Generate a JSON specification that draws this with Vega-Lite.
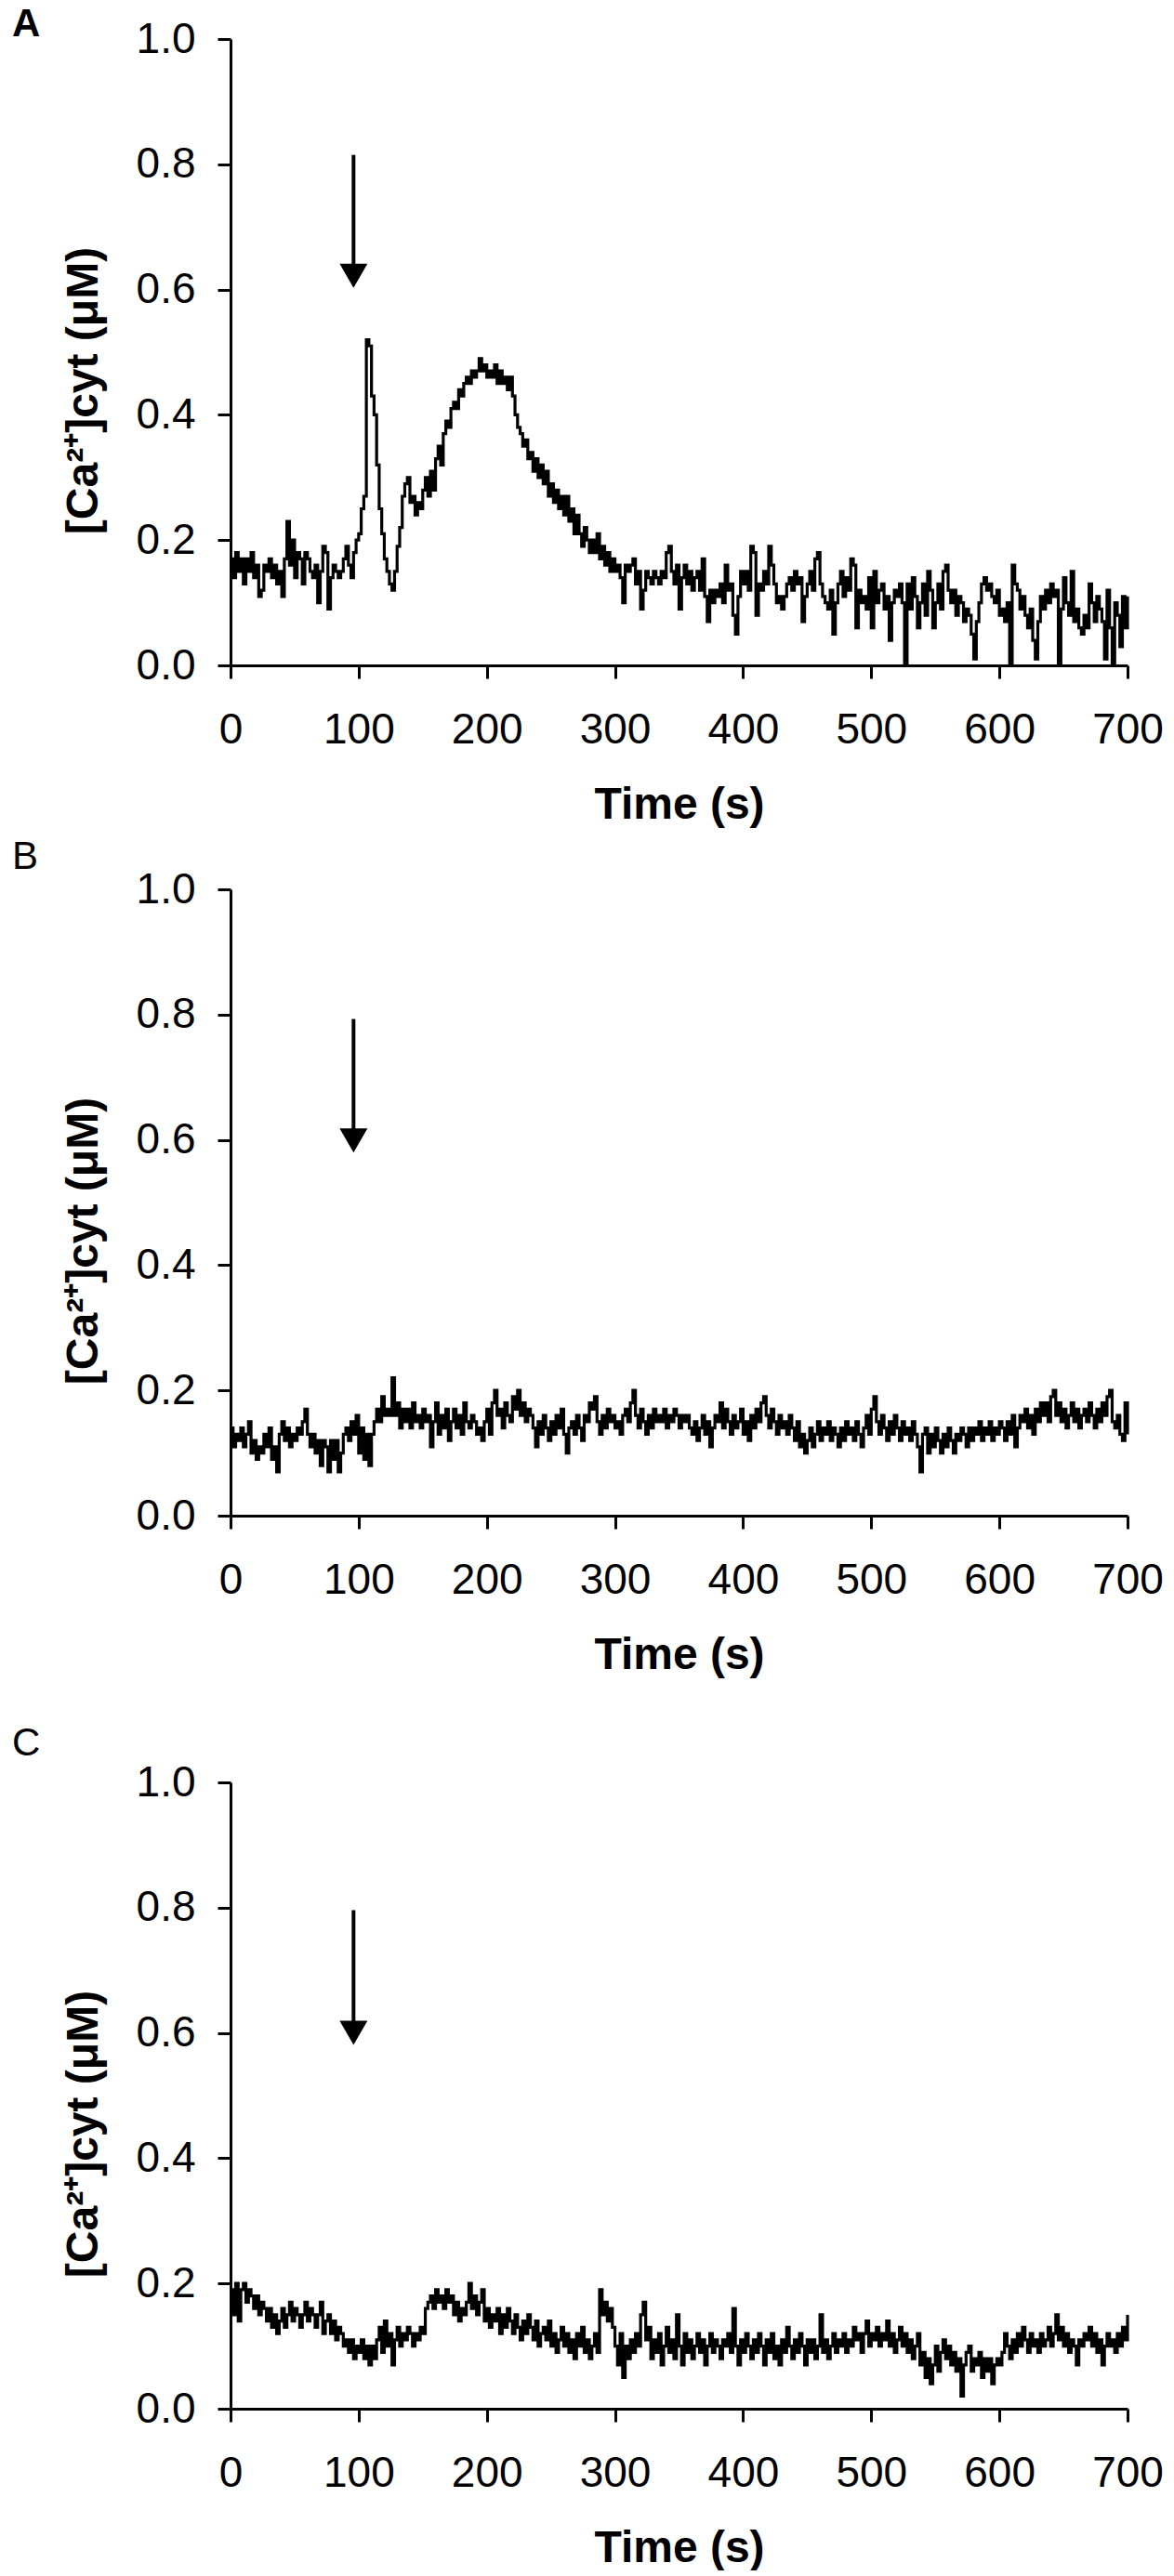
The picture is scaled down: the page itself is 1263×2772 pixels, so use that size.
{
"$schema": "https://vega.github.io/schema/vega-lite/v6.json",
"padding": {"left": 13, "top": 5, "right": 0, "bottom": 0},
"background": "white",
"config": {
"font": "Liberation Sans",
"view": {"stroke": null},
"axis": {"grid": false, "domainColor": "black", "domainWidth": 3, "tickColor": "black", "tickWidth": 3, "tickSize": 14, "labelFont": "Liberation Sans", "labelFontSize": 46, "labelColor": "black", "titleFont": "Liberation Sans", "titleFontWeight": "bold", "titleColor": "black", "labelFlush": false, "labelOverlap": false},
"axisX": {"labelPadding": 33, "titlePadding": 34, "titleFontSize": 48},
"axisY": {"labelPadding": 24, "titlePadding": 32, "titleFontSize": 48}
},
"datasets": {
"arrows": [
{"p": "A", "t": 96, "top": 0.815, "base": 0.63, "head": 0.622},
{"p": "B", "t": 96, "top": 0.793, "base": 0.61, "head": 0.599},
{"p": "C", "t": 96, "top": 0.796, "base": 0.61, "head": 0.6}
],
"A": [
{"t":0,"v":0.17},{"t":2,"v":0.14},{"t":4,"v":0.18},{"t":6,"v":0.15},{"t":8,"v":0.17},{"t":10,"v":0.13},{"t":12,"v":0.17},{"t":14,"v":0.15},{"t":16,"v":0.18},{"t":18,"v":0.14},
{"t":20,"v":0.16},{"t":22,"v":0.11},{"t":24,"v":0.12},{"t":26,"v":0.16},{"t":28,"v":0.15},{"t":30,"v":0.17},{"t":32,"v":0.14},{"t":34,"v":0.16},{"t":36,"v":0.13},{"t":38,"v":0.15},
{"t":40,"v":0.11},{"t":42,"v":0.17},{"t":44,"v":0.23},{"t":46,"v":0.16},{"t":48,"v":0.2},{"t":50,"v":0.14},{"t":52,"v":0.18},{"t":54,"v":0.17},{"t":56,"v":0.13},{"t":58,"v":0.18},
{"t":60,"v":0.17},{"t":62,"v":0.15},{"t":64,"v":0.14},{"t":66,"v":0.16},{"t":68,"v":0.1},{"t":70,"v":0.15},{"t":72,"v":0.19},{"t":74,"v":0.18},{"t":76,"v":0.09},{"t":78,"v":0.14},
{"t":80,"v":0.16},{"t":82,"v":0.15},{"t":84,"v":0.14},{"t":86,"v":0.15},{"t":88,"v":0.17},{"t":90,"v":0.19},{"t":92,"v":0.16},{"t":94,"v":0.14},{"t":96,"v":0.18},{"t":98,"v":0.2},
{"t":100,"v":0.21},{"t":102,"v":0.25},{"t":104,"v":0.27},{"t":106,"v":0.52},{"t":108,"v":0.51},{"t":110,"v":0.43},{"t":112,"v":0.4},{"t":114,"v":0.32},{"t":116,"v":0.25},{"t":118,"v":0.21},
{"t":120,"v":0.17},{"t":122,"v":0.15},{"t":124,"v":0.13},{"t":126,"v":0.12},{"t":128,"v":0.15},{"t":130,"v":0.19},{"t":132,"v":0.22},{"t":134,"v":0.27},{"t":136,"v":0.29},{"t":138,"v":0.3},
{"t":140,"v":0.26},{"t":142,"v":0.27},{"t":144,"v":0.24},{"t":146,"v":0.26},{"t":148,"v":0.25},{"t":150,"v":0.28},{"t":152,"v":0.3},{"t":154,"v":0.27},{"t":156,"v":0.31},{"t":158,"v":0.28},
{"t":160,"v":0.33},{"t":162,"v":0.35},{"t":164,"v":0.32},{"t":166,"v":0.37},{"t":168,"v":0.39},{"t":170,"v":0.38},{"t":172,"v":0.41},{"t":174,"v":0.42},{"t":176,"v":0.41},{"t":178,"v":0.44},
{"t":180,"v":0.43},{"t":182,"v":0.45},{"t":184,"v":0.46},{"t":186,"v":0.45},{"t":188,"v":0.47},{"t":190,"v":0.46},{"t":192,"v":0.47},{"t":194,"v":0.49},{"t":196,"v":0.47},{"t":198,"v":0.48},
{"t":200,"v":0.46},{"t":202,"v":0.47},{"t":204,"v":0.46},{"t":206,"v":0.48},{"t":208,"v":0.45},{"t":210,"v":0.47},{"t":212,"v":0.45},{"t":214,"v":0.46},{"t":216,"v":0.44},{"t":218,"v":0.46},
{"t":220,"v":0.43},{"t":222,"v":0.4},{"t":224,"v":0.38},{"t":226,"v":0.37},{"t":228,"v":0.35},{"t":230,"v":0.36},{"t":232,"v":0.33},{"t":234,"v":0.34},{"t":236,"v":0.31},{"t":238,"v":0.33},
{"t":240,"v":0.3},{"t":242,"v":0.32},{"t":244,"v":0.29},{"t":246,"v":0.31},{"t":248,"v":0.27},{"t":250,"v":0.29},{"t":252,"v":0.26},{"t":254,"v":0.28},{"t":256,"v":0.25},{"t":258,"v":0.27},
{"t":260,"v":0.24},{"t":262,"v":0.27},{"t":264,"v":0.23},{"t":266,"v":0.25},{"t":268,"v":0.21},{"t":270,"v":0.24},{"t":272,"v":0.21},{"t":274,"v":0.19},{"t":276,"v":0.22},{"t":278,"v":0.2},
{"t":280,"v":0.18},{"t":282,"v":0.2},{"t":284,"v":0.18},{"t":286,"v":0.21},{"t":288,"v":0.17},{"t":290,"v":0.19},{"t":292,"v":0.16},{"t":294,"v":0.18},{"t":296,"v":0.15},{"t":298,"v":0.17},
{"t":300,"v":0.15},{"t":302,"v":0.16},{"t":304,"v":0.14},{"t":306,"v":0.1},{"t":308,"v":0.16},{"t":310,"v":0.15},{"t":312,"v":0.16},{"t":314,"v":0.17},{"t":316,"v":0.13},{"t":318,"v":0.15},
{"t":320,"v":0.09},{"t":322,"v":0.12},{"t":324,"v":0.15},{"t":326,"v":0.14},{"t":328,"v":0.13},{"t":330,"v":0.15},{"t":332,"v":0.14},{"t":334,"v":0.13},{"t":336,"v":0.15},{"t":338,"v":0.14},
{"t":340,"v":0.18},{"t":342,"v":0.19},{"t":344,"v":0.15},{"t":346,"v":0.13},{"t":348,"v":0.16},{"t":350,"v":0.09},{"t":352,"v":0.14},{"t":354,"v":0.16},{"t":356,"v":0.13},{"t":358,"v":0.15},
{"t":360,"v":0.12},{"t":362,"v":0.14},{"t":364,"v":0.15},{"t":366,"v":0.12},{"t":368,"v":0.17},{"t":370,"v":0.11},{"t":372,"v":0.07},{"t":374,"v":0.12},{"t":376,"v":0.1},{"t":378,"v":0.12},
{"t":380,"v":0.11},{"t":382,"v":0.13},{"t":384,"v":0.1},{"t":386,"v":0.16},{"t":388,"v":0.12},{"t":390,"v":0.13},{"t":392,"v":0.08},{"t":394,"v":0.05},{"t":396,"v":0.11},{"t":398,"v":0.15},
{"t":400,"v":0.13},{"t":402,"v":0.15},{"t":404,"v":0.12},{"t":406,"v":0.19},{"t":408,"v":0.18},{"t":410,"v":0.08},{"t":412,"v":0.13},{"t":414,"v":0.12},{"t":416,"v":0.15},{"t":418,"v":0.13},
{"t":420,"v":0.19},{"t":422,"v":0.16},{"t":424,"v":0.13},{"t":426,"v":0.1},{"t":428,"v":0.11},{"t":430,"v":0.09},{"t":432,"v":0.11},{"t":434,"v":0.13},{"t":436,"v":0.14},{"t":438,"v":0.12},
{"t":440,"v":0.15},{"t":442,"v":0.13},{"t":444,"v":0.14},{"t":446,"v":0.07},{"t":448,"v":0.11},{"t":450,"v":0.13},{"t":452,"v":0.15},{"t":454,"v":0.12},{"t":456,"v":0.17},{"t":458,"v":0.18},
{"t":460,"v":0.13},{"t":462,"v":0.11},{"t":464,"v":0.1},{"t":466,"v":0.09},{"t":468,"v":0.12},{"t":470,"v":0.05},{"t":472,"v":0.1},{"t":474,"v":0.13},{"t":476,"v":0.15},{"t":478,"v":0.11},
{"t":480,"v":0.14},{"t":482,"v":0.12},{"t":484,"v":0.17},{"t":486,"v":0.16},{"t":488,"v":0.06},{"t":490,"v":0.12},{"t":492,"v":0.1},{"t":494,"v":0.11},{"t":496,"v":0.09},{"t":498,"v":0.14},
{"t":500,"v":0.06},{"t":502,"v":0.15},{"t":504,"v":0.1},{"t":506,"v":0.12},{"t":508,"v":0.13},{"t":510,"v":0.09},{"t":512,"v":0.11},{"t":514,"v":0.04},{"t":516,"v":0.1},{"t":518,"v":0.12},
{"t":520,"v":0.11},{"t":522,"v":0.13},{"t":524,"v":0.1},{"t":526,"v":0.0},{"t":528,"v":0.13},{"t":530,"v":0.09},{"t":532,"v":0.14},{"t":534,"v":0.11},{"t":536,"v":0.06},{"t":538,"v":0.1},
{"t":540,"v":0.13},{"t":542,"v":0.08},{"t":544,"v":0.15},{"t":546,"v":0.12},{"t":548,"v":0.06},{"t":550,"v":0.1},{"t":552,"v":0.13},{"t":554,"v":0.09},{"t":556,"v":0.15},{"t":558,"v":0.16},
{"t":560,"v":0.12},{"t":562,"v":0.1},{"t":564,"v":0.12},{"t":566,"v":0.08},{"t":568,"v":0.11},{"t":570,"v":0.1},{"t":572,"v":0.07},{"t":574,"v":0.09},{"t":576,"v":0.08},{"t":578,"v":0.05},
{"t":580,"v":0.01},{"t":582,"v":0.07},{"t":584,"v":0.1},{"t":586,"v":0.13},{"t":588,"v":0.14},{"t":590,"v":0.12},{"t":592,"v":0.13},{"t":594,"v":0.11},{"t":596,"v":0.1},{"t":598,"v":0.12},
{"t":600,"v":0.08},{"t":602,"v":0.09},{"t":604,"v":0.07},{"t":606,"v":0.1},{"t":608,"v":0.0},{"t":610,"v":0.16},{"t":612,"v":0.13},{"t":614,"v":0.12},{"t":616,"v":0.09},{"t":618,"v":0.11},
{"t":620,"v":0.08},{"t":622,"v":0.06},{"t":624,"v":0.09},{"t":626,"v":0.04},{"t":628,"v":0.01},{"t":630,"v":0.07},{"t":632,"v":0.11},{"t":634,"v":0.09},{"t":636,"v":0.12},{"t":638,"v":0.1},
{"t":640,"v":0.13},{"t":642,"v":0.11},{"t":644,"v":0.12},{"t":646,"v":0.0},{"t":648,"v":0.09},{"t":650,"v":0.14},{"t":652,"v":0.1},{"t":654,"v":0.08},{"t":656,"v":0.15},{"t":658,"v":0.07},
{"t":660,"v":0.09},{"t":662,"v":0.06},{"t":664,"v":0.05},{"t":666,"v":0.08},{"t":668,"v":0.06},{"t":670,"v":0.13},{"t":672,"v":0.1},{"t":674,"v":0.07},{"t":676,"v":0.11},{"t":678,"v":0.09},
{"t":680,"v":0.07},{"t":682,"v":0.01},{"t":684,"v":0.12},{"t":686,"v":0.06},{"t":688,"v":0.0},{"t":690,"v":0.1},{"t":692,"v":0.08},{"t":694,"v":0.03},{"t":696,"v":0.11},{"t":698,"v":0.06},
{"t":700,"v":0.11}
],
"B": [
{"t":0,"v":0.14},{"t":2,"v":0.11},{"t":4,"v":0.13},{"t":6,"v":0.12},{"t":8,"v":0.14},{"t":10,"v":0.11},{"t":12,"v":0.13},{"t":14,"v":0.15},{"t":16,"v":0.1},{"t":18,"v":0.12},
{"t":20,"v":0.09},{"t":22,"v":0.11},{"t":24,"v":0.1},{"t":26,"v":0.13},{"t":28,"v":0.11},{"t":30,"v":0.14},{"t":32,"v":0.09},{"t":34,"v":0.11},{"t":36,"v":0.07},{"t":38,"v":0.13},
{"t":40,"v":0.15},{"t":42,"v":0.12},{"t":44,"v":0.14},{"t":46,"v":0.11},{"t":48,"v":0.13},{"t":50,"v":0.12},{"t":52,"v":0.14},{"t":54,"v":0.13},{"t":56,"v":0.15},{"t":58,"v":0.17},
{"t":60,"v":0.13},{"t":62,"v":0.11},{"t":64,"v":0.13},{"t":66,"v":0.1},{"t":68,"v":0.12},{"t":70,"v":0.08},{"t":72,"v":0.12},{"t":74,"v":0.11},{"t":76,"v":0.07},{"t":78,"v":0.12},
{"t":80,"v":0.09},{"t":82,"v":0.12},{"t":84,"v":0.07},{"t":86,"v":0.1},{"t":88,"v":0.13},{"t":90,"v":0.14},{"t":92,"v":0.12},{"t":94,"v":0.15},{"t":96,"v":0.13},{"t":98,"v":0.16},
{"t":100,"v":0.1},{"t":102,"v":0.14},{"t":104,"v":0.09},{"t":106,"v":0.13},{"t":108,"v":0.08},{"t":110,"v":0.13},{"t":112,"v":0.15},{"t":114,"v":0.17},{"t":116,"v":0.15},{"t":118,"v":0.19},
{"t":120,"v":0.16},{"t":122,"v":0.17},{"t":124,"v":0.16},{"t":126,"v":0.22},{"t":128,"v":0.16},{"t":130,"v":0.18},{"t":132,"v":0.14},{"t":134,"v":0.17},{"t":136,"v":0.15},{"t":138,"v":0.17},
{"t":140,"v":0.14},{"t":142,"v":0.18},{"t":144,"v":0.15},{"t":146,"v":0.16},{"t":148,"v":0.14},{"t":150,"v":0.17},{"t":152,"v":0.15},{"t":154,"v":0.16},{"t":156,"v":0.11},{"t":158,"v":0.15},
{"t":160,"v":0.18},{"t":162,"v":0.13},{"t":164,"v":0.16},{"t":166,"v":0.14},{"t":168,"v":0.17},{"t":170,"v":0.12},{"t":172,"v":0.15},{"t":174,"v":0.17},{"t":176,"v":0.14},{"t":178,"v":0.16},
{"t":180,"v":0.13},{"t":182,"v":0.18},{"t":184,"v":0.15},{"t":186,"v":0.14},{"t":188,"v":0.16},{"t":190,"v":0.15},{"t":192,"v":0.13},{"t":194,"v":0.14},{"t":196,"v":0.12},{"t":198,"v":0.15},
{"t":200,"v":0.17},{"t":202,"v":0.13},{"t":204,"v":0.18},{"t":206,"v":0.2},{"t":208,"v":0.16},{"t":210,"v":0.17},{"t":212,"v":0.14},{"t":214,"v":0.18},{"t":216,"v":0.16},{"t":218,"v":0.15},
{"t":220,"v":0.19},{"t":222,"v":0.17},{"t":224,"v":0.2},{"t":226,"v":0.16},{"t":228,"v":0.18},{"t":230,"v":0.15},{"t":232,"v":0.17},{"t":234,"v":0.16},{"t":236,"v":0.14},{"t":238,"v":0.11},
{"t":240,"v":0.15},{"t":242,"v":0.13},{"t":244,"v":0.16},{"t":246,"v":0.14},{"t":248,"v":0.12},{"t":250,"v":0.15},{"t":252,"v":0.13},{"t":254,"v":0.16},{"t":256,"v":0.14},{"t":258,"v":0.17},
{"t":260,"v":0.13},{"t":262,"v":0.1},{"t":264,"v":0.14},{"t":266,"v":0.15},{"t":268,"v":0.13},{"t":270,"v":0.16},{"t":272,"v":0.14},{"t":274,"v":0.12},{"t":276,"v":0.16},{"t":278,"v":0.15},
{"t":280,"v":0.18},{"t":282,"v":0.17},{"t":284,"v":0.19},{"t":286,"v":0.15},{"t":288,"v":0.13},{"t":290,"v":0.16},{"t":292,"v":0.14},{"t":294,"v":0.17},{"t":296,"v":0.15},{"t":298,"v":0.16},
{"t":300,"v":0.14},{"t":302,"v":0.15},{"t":304,"v":0.13},{"t":306,"v":0.16},{"t":308,"v":0.17},{"t":310,"v":0.15},{"t":312,"v":0.18},{"t":314,"v":0.2},{"t":316,"v":0.16},{"t":318,"v":0.14},
{"t":320,"v":0.17},{"t":322,"v":0.15},{"t":324,"v":0.13},{"t":326,"v":0.16},{"t":328,"v":0.14},{"t":330,"v":0.17},{"t":332,"v":0.15},{"t":334,"v":0.16},{"t":336,"v":0.15},{"t":338,"v":0.17},
{"t":340,"v":0.14},{"t":342,"v":0.16},{"t":344,"v":0.15},{"t":346,"v":0.17},{"t":348,"v":0.16},{"t":350,"v":0.14},{"t":352,"v":0.16},{"t":354,"v":0.15},{"t":356,"v":0.16},{"t":358,"v":0.14},
{"t":360,"v":0.13},{"t":362,"v":0.15},{"t":364,"v":0.12},{"t":366,"v":0.14},{"t":368,"v":0.16},{"t":370,"v":0.13},{"t":372,"v":0.15},{"t":374,"v":0.11},{"t":376,"v":0.14},{"t":378,"v":0.16},
{"t":380,"v":0.15},{"t":382,"v":0.18},{"t":384,"v":0.14},{"t":386,"v":0.17},{"t":388,"v":0.15},{"t":390,"v":0.13},{"t":392,"v":0.16},{"t":394,"v":0.14},{"t":396,"v":0.15},{"t":398,"v":0.17},
{"t":400,"v":0.13},{"t":402,"v":0.15},{"t":404,"v":0.12},{"t":406,"v":0.16},{"t":408,"v":0.14},{"t":410,"v":0.17},{"t":412,"v":0.15},{"t":414,"v":0.18},{"t":416,"v":0.19},{"t":418,"v":0.16},
{"t":420,"v":0.14},{"t":422,"v":0.17},{"t":424,"v":0.15},{"t":426,"v":0.13},{"t":428,"v":0.16},{"t":430,"v":0.14},{"t":432,"v":0.15},{"t":434,"v":0.13},{"t":436,"v":0.16},{"t":438,"v":0.14},
{"t":440,"v":0.12},{"t":442,"v":0.15},{"t":444,"v":0.11},{"t":446,"v":0.13},{"t":448,"v":0.1},{"t":450,"v":0.12},{"t":452,"v":0.14},{"t":454,"v":0.11},{"t":456,"v":0.13},{"t":458,"v":0.15},
{"t":460,"v":0.12},{"t":462,"v":0.14},{"t":464,"v":0.13},{"t":466,"v":0.15},{"t":468,"v":0.12},{"t":470,"v":0.14},{"t":472,"v":0.13},{"t":474,"v":0.11},{"t":476,"v":0.14},{"t":478,"v":0.12},
{"t":480,"v":0.15},{"t":482,"v":0.13},{"t":484,"v":0.14},{"t":486,"v":0.12},{"t":488,"v":0.15},{"t":490,"v":0.13},{"t":492,"v":0.11},{"t":494,"v":0.14},{"t":496,"v":0.16},{"t":498,"v":0.13},
{"t":500,"v":0.17},{"t":502,"v":0.19},{"t":504,"v":0.15},{"t":506,"v":0.13},{"t":508,"v":0.16},{"t":510,"v":0.14},{"t":512,"v":0.12},{"t":514,"v":0.15},{"t":516,"v":0.13},{"t":518,"v":0.16},
{"t":520,"v":0.14},{"t":522,"v":0.12},{"t":524,"v":0.15},{"t":526,"v":0.13},{"t":528,"v":0.14},{"t":530,"v":0.12},{"t":532,"v":0.15},{"t":534,"v":0.13},{"t":536,"v":0.11},{"t":538,"v":0.07},
{"t":540,"v":0.13},{"t":542,"v":0.14},{"t":544,"v":0.1},{"t":546,"v":0.13},{"t":548,"v":0.11},{"t":550,"v":0.14},{"t":552,"v":0.12},{"t":554,"v":0.1},{"t":556,"v":0.13},{"t":558,"v":0.11},
{"t":560,"v":0.14},{"t":562,"v":0.12},{"t":564,"v":0.1},{"t":566,"v":0.13},{"t":568,"v":0.12},{"t":570,"v":0.14},{"t":572,"v":0.13},{"t":574,"v":0.11},{"t":576,"v":0.14},{"t":578,"v":0.12},
{"t":580,"v":0.14},{"t":582,"v":0.13},{"t":584,"v":0.15},{"t":586,"v":0.12},{"t":588,"v":0.14},{"t":590,"v":0.13},{"t":592,"v":0.15},{"t":594,"v":0.12},{"t":596,"v":0.14},{"t":598,"v":0.13},
{"t":600,"v":0.15},{"t":602,"v":0.14},{"t":604,"v":0.12},{"t":606,"v":0.15},{"t":608,"v":0.13},{"t":610,"v":0.16},{"t":612,"v":0.11},{"t":614,"v":0.14},{"t":616,"v":0.16},{"t":618,"v":0.15},
{"t":620,"v":0.17},{"t":622,"v":0.14},{"t":624,"v":0.16},{"t":626,"v":0.13},{"t":628,"v":0.17},{"t":630,"v":0.15},{"t":632,"v":0.18},{"t":634,"v":0.16},{"t":636,"v":0.18},{"t":638,"v":0.15},
{"t":640,"v":0.19},{"t":642,"v":0.2},{"t":644,"v":0.16},{"t":646,"v":0.18},{"t":648,"v":0.15},{"t":650,"v":0.17},{"t":652,"v":0.14},{"t":654,"v":0.16},{"t":656,"v":0.18},{"t":658,"v":0.15},
{"t":660,"v":0.17},{"t":662,"v":0.14},{"t":664,"v":0.16},{"t":666,"v":0.17},{"t":668,"v":0.15},{"t":670,"v":0.18},{"t":672,"v":0.16},{"t":674,"v":0.14},{"t":676,"v":0.17},{"t":678,"v":0.15},
{"t":680,"v":0.18},{"t":682,"v":0.16},{"t":684,"v":0.19},{"t":686,"v":0.2},{"t":688,"v":0.15},{"t":690,"v":0.14},{"t":692,"v":0.16},{"t":694,"v":0.13},{"t":696,"v":0.12},{"t":698,"v":0.18},
{"t":700,"v":0.13}
],
"C": [
{"t":0,"v":0.19},{"t":2,"v":0.15},{"t":4,"v":0.2},{"t":6,"v":0.14},{"t":8,"v":0.19},{"t":10,"v":0.2},{"t":12,"v":0.17},{"t":14,"v":0.19},{"t":16,"v":0.18},{"t":18,"v":0.16},
{"t":20,"v":0.18},{"t":22,"v":0.15},{"t":24,"v":0.17},{"t":26,"v":0.16},{"t":28,"v":0.14},{"t":30,"v":0.16},{"t":32,"v":0.13},{"t":34,"v":0.15},{"t":36,"v":0.12},{"t":38,"v":0.14},
{"t":40,"v":0.16},{"t":42,"v":0.13},{"t":44,"v":0.15},{"t":46,"v":0.17},{"t":48,"v":0.14},{"t":50,"v":0.16},{"t":52,"v":0.15},{"t":54,"v":0.13},{"t":56,"v":0.15},{"t":58,"v":0.17},
{"t":60,"v":0.14},{"t":62,"v":0.16},{"t":64,"v":0.15},{"t":66,"v":0.13},{"t":68,"v":0.15},{"t":70,"v":0.17},{"t":72,"v":0.12},{"t":74,"v":0.14},{"t":76,"v":0.15},{"t":78,"v":0.12},
{"t":80,"v":0.14},{"t":82,"v":0.11},{"t":84,"v":0.13},{"t":86,"v":0.12},{"t":88,"v":0.1},{"t":90,"v":0.11},{"t":92,"v":0.09},{"t":94,"v":0.11},{"t":96,"v":0.08},{"t":98,"v":0.1},
{"t":100,"v":0.09},{"t":102,"v":0.11},{"t":104,"v":0.08},{"t":106,"v":0.1},{"t":108,"v":0.07},{"t":110,"v":0.1},{"t":112,"v":0.08},{"t":114,"v":0.11},{"t":116,"v":0.13},{"t":118,"v":0.09},
{"t":120,"v":0.14},{"t":122,"v":0.1},{"t":124,"v":0.12},{"t":126,"v":0.07},{"t":128,"v":0.11},{"t":130,"v":0.13},{"t":132,"v":0.1},{"t":134,"v":0.12},{"t":136,"v":0.11},{"t":138,"v":0.13},
{"t":140,"v":0.12},{"t":142,"v":0.1},{"t":144,"v":0.12},{"t":146,"v":0.11},{"t":148,"v":0.13},{"t":150,"v":0.12},{"t":152,"v":0.16},{"t":154,"v":0.17},{"t":156,"v":0.18},{"t":158,"v":0.16},
{"t":160,"v":0.19},{"t":162,"v":0.17},{"t":164,"v":0.18},{"t":166,"v":0.16},{"t":168,"v":0.19},{"t":170,"v":0.17},{"t":172,"v":0.18},{"t":174,"v":0.15},{"t":176,"v":0.17},{"t":178,"v":0.14},
{"t":180,"v":0.16},{"t":182,"v":0.15},{"t":184,"v":0.17},{"t":186,"v":0.2},{"t":188,"v":0.16},{"t":190,"v":0.18},{"t":192,"v":0.15},{"t":194,"v":0.17},{"t":196,"v":0.19},{"t":198,"v":0.14},
{"t":200,"v":0.16},{"t":202,"v":0.13},{"t":204,"v":0.15},{"t":206,"v":0.14},{"t":208,"v":0.16},{"t":210,"v":0.12},{"t":212,"v":0.15},{"t":214,"v":0.13},{"t":216,"v":0.16},{"t":218,"v":0.14},
{"t":220,"v":0.12},{"t":222,"v":0.15},{"t":224,"v":0.13},{"t":226,"v":0.11},{"t":228,"v":0.14},{"t":230,"v":0.12},{"t":232,"v":0.15},{"t":234,"v":0.13},{"t":236,"v":0.11},{"t":238,"v":0.14},
{"t":240,"v":0.1},{"t":242,"v":0.12},{"t":244,"v":0.13},{"t":246,"v":0.11},{"t":248,"v":0.14},{"t":250,"v":0.1},{"t":252,"v":0.12},{"t":254,"v":0.09},{"t":256,"v":0.11},{"t":258,"v":0.13},
{"t":260,"v":0.1},{"t":262,"v":0.12},{"t":264,"v":0.09},{"t":266,"v":0.11},{"t":268,"v":0.08},{"t":270,"v":0.12},{"t":272,"v":0.1},{"t":274,"v":0.13},{"t":276,"v":0.09},{"t":278,"v":0.11},
{"t":280,"v":0.08},{"t":282,"v":0.1},{"t":284,"v":0.12},{"t":286,"v":0.09},{"t":288,"v":0.19},{"t":290,"v":0.15},{"t":292,"v":0.17},{"t":294,"v":0.14},{"t":296,"v":0.16},{"t":298,"v":0.13},
{"t":300,"v":0.1},{"t":302,"v":0.07},{"t":304,"v":0.12},{"t":306,"v":0.05},{"t":308,"v":0.1},{"t":310,"v":0.08},{"t":312,"v":0.11},{"t":314,"v":0.09},{"t":316,"v":0.12},{"t":318,"v":0.1},
{"t":320,"v":0.15},{"t":322,"v":0.17},{"t":324,"v":0.11},{"t":326,"v":0.13},{"t":328,"v":0.08},{"t":330,"v":0.11},{"t":332,"v":0.09},{"t":334,"v":0.12},{"t":336,"v":0.07},{"t":338,"v":0.1},
{"t":340,"v":0.13},{"t":342,"v":0.09},{"t":344,"v":0.11},{"t":346,"v":0.08},{"t":348,"v":0.15},{"t":350,"v":0.1},{"t":352,"v":0.07},{"t":354,"v":0.12},{"t":356,"v":0.09},{"t":358,"v":0.11},
{"t":360,"v":0.08},{"t":362,"v":0.1},{"t":364,"v":0.12},{"t":366,"v":0.09},{"t":368,"v":0.11},{"t":370,"v":0.07},{"t":372,"v":0.1},{"t":374,"v":0.12},{"t":376,"v":0.09},{"t":378,"v":0.11},
{"t":380,"v":0.1},{"t":382,"v":0.08},{"t":384,"v":0.11},{"t":386,"v":0.1},{"t":388,"v":0.12},{"t":390,"v":0.09},{"t":392,"v":0.16},{"t":394,"v":0.1},{"t":396,"v":0.07},{"t":398,"v":0.11},
{"t":400,"v":0.09},{"t":402,"v":0.12},{"t":404,"v":0.1},{"t":406,"v":0.08},{"t":408,"v":0.11},{"t":410,"v":0.09},{"t":412,"v":0.12},{"t":414,"v":0.1},{"t":416,"v":0.07},{"t":418,"v":0.11},
{"t":420,"v":0.09},{"t":422,"v":0.12},{"t":424,"v":0.08},{"t":426,"v":0.1},{"t":428,"v":0.07},{"t":430,"v":0.11},{"t":432,"v":0.09},{"t":434,"v":0.13},{"t":436,"v":0.1},{"t":438,"v":0.08},
{"t":440,"v":0.11},{"t":442,"v":0.09},{"t":444,"v":0.12},{"t":446,"v":0.1},{"t":448,"v":0.07},{"t":450,"v":0.11},{"t":452,"v":0.09},{"t":454,"v":0.11},{"t":456,"v":0.08},{"t":458,"v":0.1},
{"t":460,"v":0.15},{"t":462,"v":0.09},{"t":464,"v":0.11},{"t":466,"v":0.08},{"t":468,"v":0.1},{"t":470,"v":0.12},{"t":472,"v":0.09},{"t":474,"v":0.11},{"t":476,"v":0.1},{"t":478,"v":0.12},
{"t":480,"v":0.09},{"t":482,"v":0.11},{"t":484,"v":0.1},{"t":486,"v":0.13},{"t":488,"v":0.11},{"t":490,"v":0.12},{"t":492,"v":0.09},{"t":494,"v":0.12},{"t":496,"v":0.14},{"t":498,"v":0.1},
{"t":500,"v":0.12},{"t":502,"v":0.11},{"t":504,"v":0.13},{"t":506,"v":0.1},{"t":508,"v":0.12},{"t":510,"v":0.11},{"t":512,"v":0.14},{"t":514,"v":0.1},{"t":516,"v":0.12},{"t":518,"v":0.09},
{"t":520,"v":0.11},{"t":522,"v":0.13},{"t":524,"v":0.1},{"t":526,"v":0.12},{"t":528,"v":0.09},{"t":530,"v":0.11},{"t":532,"v":0.08},{"t":534,"v":0.1},{"t":536,"v":0.12},{"t":538,"v":0.07},
{"t":540,"v":0.09},{"t":542,"v":0.05},{"t":544,"v":0.08},{"t":546,"v":0.04},{"t":548,"v":0.07},{"t":550,"v":0.1},{"t":552,"v":0.06},{"t":554,"v":0.09},{"t":556,"v":0.11},{"t":558,"v":0.08},
{"t":560,"v":0.1},{"t":562,"v":0.07},{"t":564,"v":0.09},{"t":566,"v":0.06},{"t":568,"v":0.08},{"t":570,"v":0.02},{"t":572,"v":0.07},{"t":574,"v":0.09},{"t":576,"v":0.1},{"t":578,"v":0.06},
{"t":580,"v":0.08},{"t":582,"v":0.07},{"t":584,"v":0.09},{"t":586,"v":0.05},{"t":588,"v":0.08},{"t":590,"v":0.06},{"t":592,"v":0.08},{"t":594,"v":0.04},{"t":596,"v":0.07},{"t":598,"v":0.08},
{"t":600,"v":0.07},{"t":602,"v":0.09},{"t":604,"v":0.12},{"t":606,"v":0.1},{"t":608,"v":0.08},{"t":610,"v":0.11},{"t":612,"v":0.09},{"t":614,"v":0.12},{"t":616,"v":0.1},{"t":618,"v":0.13},
{"t":620,"v":0.11},{"t":622,"v":0.09},{"t":624,"v":0.12},{"t":626,"v":0.1},{"t":628,"v":0.11},{"t":630,"v":0.09},{"t":632,"v":0.12},{"t":634,"v":0.1},{"t":636,"v":0.11},{"t":638,"v":0.13},
{"t":640,"v":0.1},{"t":642,"v":0.12},{"t":644,"v":0.15},{"t":646,"v":0.11},{"t":648,"v":0.13},{"t":650,"v":0.1},{"t":652,"v":0.12},{"t":654,"v":0.09},{"t":656,"v":0.11},{"t":658,"v":0.1},
{"t":660,"v":0.07},{"t":662,"v":0.11},{"t":664,"v":0.1},{"t":666,"v":0.12},{"t":668,"v":0.11},{"t":670,"v":0.13},{"t":672,"v":0.1},{"t":674,"v":0.12},{"t":676,"v":0.09},{"t":678,"v":0.11},
{"t":680,"v":0.07},{"t":682,"v":0.1},{"t":684,"v":0.12},{"t":686,"v":0.1},{"t":688,"v":0.11},{"t":690,"v":0.09},{"t":692,"v":0.12},{"t":694,"v":0.1},{"t":696,"v":0.13},{"t":698,"v":0.11},
{"t":700,"v":0.15}
]
},
"spacing": 50,
"vconcat": [
{
"spacing": 241,
"bounds": "flush",
"vconcat": [
{
"width": 965, "height": 674,
"title": {"text": "A", "anchor": "start", "frame": "group", "dx": -235, "offset": -29, "fontSize": 42, "fontWeight": "bold", "color": "black", "font": "Liberation Sans"},
"layer": [
{"data": {"name": "A"}, "mark": {"type": "line", "interpolate": "step-after", "color": "black", "strokeWidth": 3.2},
"encoding": {
"x": {"field": "t", "type": "quantitative", "title": "Time (s)", "scale": {"domain": [0, 700], "nice": false}, "axis": {"values": [0, 100, 200, 300, 400, 500, 600, 700], "format": "d"}},
"y": {"field": "v", "type": "quantitative", "title": "[Ca²⁺]cyt (μM)", "scale": {"domain": [0, 1], "nice": false}, "axis": {"values": [0, 0.2, 0.4, 0.6, 0.8, 1], "format": ".1f", "titleY": 378}}}},
{"data": {"name": "arrows"}, "transform": [{"filter": "datum.p === 'A'"}], "mark": {"type": "rule", "color": "black", "strokeWidth": 4},
"encoding": {"x": {"field": "t", "type": "quantitative", "title": "Time (s)"}, "y": {"field": "top", "type": "quantitative", "title": "[Ca²⁺]cyt (μM)"}, "y2": {"field": "base"}}},
{"data": {"name": "arrows"}, "transform": [{"filter": "datum.p === 'A'"}], "mark": {"type": "point", "shape": "triangle-down", "filled": true, "size": 900, "color": "black", "opacity": 1, "strokeWidth": 0},
"encoding": {"x": {"field": "t", "type": "quantitative", "title": "Time (s)"}, "y": {"field": "head", "type": "quantitative", "title": "[Ca²⁺]cyt (μM)"}}}
]
},
{
"width": 965, "height": 674,
"title": {"text": "B", "anchor": "start", "frame": "group", "dx": -235, "offset": -10, "fontSize": 42, "fontWeight": "normal", "color": "black", "font": "Liberation Sans"},
"layer": [
{"data": {"name": "B"}, "mark": {"type": "line", "interpolate": "step-after", "color": "black", "strokeWidth": 3.2},
"encoding": {
"x": {"field": "t", "type": "quantitative", "title": "Time (s)", "scale": {"domain": [0, 700], "nice": false}, "axis": {"values": [0, 100, 200, 300, 400, 500, 600, 700], "format": "d"}},
"y": {"field": "v", "type": "quantitative", "title": "[Ca²⁺]cyt (μM)", "scale": {"domain": [0, 1], "nice": false}, "axis": {"values": [0, 0.2, 0.4, 0.6, 0.8, 1], "format": ".1f", "titleY": 378}}}},
{"data": {"name": "arrows"}, "transform": [{"filter": "datum.p === 'B'"}], "mark": {"type": "rule", "color": "black", "strokeWidth": 4},
"encoding": {"x": {"field": "t", "type": "quantitative", "title": "Time (s)"}, "y": {"field": "top", "type": "quantitative", "title": "[Ca²⁺]cyt (μM)"}, "y2": {"field": "base"}}},
{"data": {"name": "arrows"}, "transform": [{"filter": "datum.p === 'B'"}], "mark": {"type": "point", "shape": "triangle-down", "filled": true, "size": 900, "color": "black", "opacity": 1, "strokeWidth": 0},
"encoding": {"x": {"field": "t", "type": "quantitative", "title": "Time (s)"}, "y": {"field": "head", "type": "quantitative", "title": "[Ca²⁺]cyt (μM)"}}}
]
}
]
},
{
"width": 965, "height": 674,
"title": {"text": "C", "anchor": "start", "frame": "group", "dx": -235, "offset": -3, "fontSize": 42, "fontWeight": "normal", "color": "black", "font": "Liberation Sans"},
"layer": [
{"data": {"name": "C"}, "mark": {"type": "line", "interpolate": "step-after", "color": "black", "strokeWidth": 3.2},
"encoding": {
"x": {"field": "t", "type": "quantitative", "title": "Time (s)", "scale": {"domain": [0, 700], "nice": false}, "axis": {"values": [0, 100, 200, 300, 400, 500, 600, 700], "format": "d"}},
"y": {"field": "v", "type": "quantitative", "title": "[Ca²⁺]cyt (μM)", "scale": {"domain": [0, 1], "nice": false}, "axis": {"values": [0, 0.2, 0.4, 0.6, 0.8, 1], "format": ".1f", "titleY": 378}}}},
{"data": {"name": "arrows"}, "transform": [{"filter": "datum.p === 'C'"}], "mark": {"type": "rule", "color": "black", "strokeWidth": 4},
"encoding": {"x": {"field": "t", "type": "quantitative", "title": "Time (s)"}, "y": {"field": "top", "type": "quantitative", "title": "[Ca²⁺]cyt (μM)"}, "y2": {"field": "base"}}},
{"data": {"name": "arrows"}, "transform": [{"filter": "datum.p === 'C'"}], "mark": {"type": "point", "shape": "triangle-down", "filled": true, "size": 900, "color": "black", "opacity": 1, "strokeWidth": 0},
"encoding": {"x": {"field": "t", "type": "quantitative", "title": "Time (s)"}, "y": {"field": "head", "type": "quantitative", "title": "[Ca²⁺]cyt (μM)"}}}
]
}
]
}
